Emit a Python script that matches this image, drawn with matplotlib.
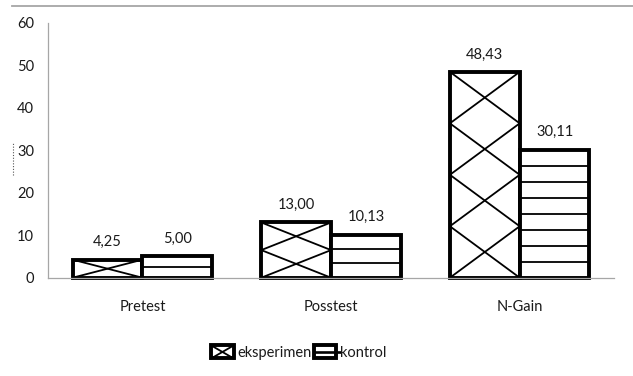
import numpy as np
import matplotlib.pyplot as plt
from matplotlib.lines import Line2D
from matplotlib.patches import Rectangle
from matplotlib.legend_handler import HandlerBase

plt.rcParams['font.family'] = ['Lato', 'DejaVu Sans']

categories = ["Pretest", "Posstest", "N-Gain"]
eksperimen = [4.25, 13.00, 48.43]
kontrol = [5.00, 10.13, 30.11]
series_names = ["eksperimen", "kontrol"]
# fill pattern density per bar: X-cells for eksperimen, stripes for kontrol
x_repeats = [1, 2, 4]
stripe_counts = [1, 2, 7]

text_color = "#1a1a1a"
axis_gray = "#a6a6a6"
edge_lw = 2.8
fill_lw = 1.3
fs = 10.5

fig = plt.figure(figsize=(6.33, 3.76), dpi=100)
ax = fig.add_axes([0.076, 0.2614, 0.894, 0.6782])

x = np.arange(len(categories))
w = 0.37
bars_e = ax.bar(x - w / 2, eksperimen, w, facecolor="white", edgecolor="black",
                linewidth=edge_lw, zorder=2, clip_on=False)
bars_k = ax.bar(x + w / 2, kontrol, w, facecolor="white", edgecolor="black",
                linewidth=edge_lw, zorder=2, clip_on=False)


def clipped_line(xs, ys, rect):
    ln = Line2D(xs, ys, color="black", lw=fill_lw, zorder=2.5)
    ax.add_line(ln)
    ln.set_clip_path(rect)


def cross_fill(rect, n):
    # diagonal lattice stretched to the bar
    x0 = rect.get_x()
    x1 = x0 + rect.get_width()
    p = rect.get_height() / n
    for k in range(-1, n + 1):
        clipped_line([x0, x1], [k * p, (k + 1) * p], rect)
        clipped_line([x0, x1], [(k + 1) * p, k * p], rect)


def stripe_fill(rect, n):
    x0 = rect.get_x()
    x1 = x0 + rect.get_width()
    h = rect.get_height()
    for k in range(1, n + 1):
        yk = h * k / (n + 1)
        clipped_line([x0, x1], [yk, yk], rect)


for rect, n in zip(bars_e, x_repeats):
    cross_fill(rect, n)
for rect, n in zip(bars_k, stripe_counts):
    stripe_fill(rect, n)

for bars, vals in ((bars_e, eksperimen), (bars_k, kontrol)):
    for rect, v in zip(bars, vals):
        ax.annotate(f"{v:.2f}".replace(".", ","),
                    xy=(rect.get_x() + rect.get_width() / 2, v),
                    xytext=(0, 12.5), textcoords="offset points",
                    ha="center", va="center", fontsize=fs, color=text_color)

ax.set_xlim(-0.5, 2.5)
ax.set_ylim(0, 60)
ax.set_yticks(range(0, 61, 10))
ax.set_xticks(x)
ax.set_xticklabels(categories)
ax.tick_params(axis="both", length=0, labelsize=fs, labelcolor=text_color)
ax.tick_params(axis="y", pad=10)
ax.tick_params(axis="x", pad=16)
for side in ("top", "right"):
    ax.spines[side].set_visible(False)
for side in ("left", "bottom"):
    ax.spines[side].set_color(axis_gray)
    ax.spines[side].set_linewidth(0.9)


class BoxHandler(HandlerBase):
    def __init__(self, kind):
        super().__init__()
        self.kind = kind

    def create_artists(self, legend, orig_handle, xdescent, ydescent,
                       width, height, fontsize, trans):
        x0, y0 = -xdescent, -ydescent
        box = Rectangle((x0, y0), width, height, facecolor="white",
                        edgecolor="black", lw=edge_lw, transform=trans)
        arts = [box]
        if self.kind == "x":
            arts.append(Line2D([x0, x0 + width], [y0, y0 + height],
                               color="black", lw=fill_lw, transform=trans))
            arts.append(Line2D([x0, x0 + width], [y0 + height, y0],
                               color="black", lw=fill_lw, transform=trans))
        else:
            arts.append(Line2D([x0, x0 + width * 1.15], [y0 + height / 2] * 2,
                               color="black", lw=fill_lw + 0.6, transform=trans))
        return arts


h_e = Rectangle((0, 0), 1, 1)
h_k = Rectangle((0, 0), 1, 1)
fig.legend([h_e, h_k], series_names, loc="center", bbox_to_anchor=(0.472, 0.062),
           ncol=2, frameon=False, fontsize=fs, handlelength=1.55,
           handleheight=1.0, handletextpad=0.25, columnspacing=0.15,
           labelcolor=text_color,
           handler_map={h_e: BoxHandler("x"), h_k: BoxHandler("-")})

# chart frame remnants
fig.add_artist(Line2D([0.019, 1.0], [0.984, 0.984], transform=fig.transFigure,
                      color=axis_gray, lw=1.3))
fig.add_artist(Line2D([0.02, 0.02], [0.535, 0.62], transform=fig.transFigure,
                      color="#555555", lw=0.8, ls=(0, (1, 1.5))))

fig.savefig("out.png", dpi=100, facecolor="white")
